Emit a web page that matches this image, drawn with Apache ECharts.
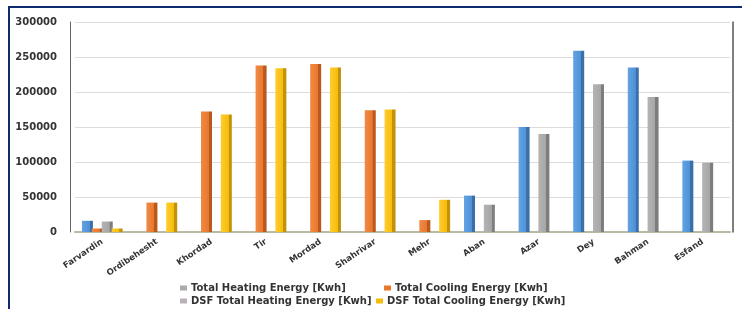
<!DOCTYPE html>
<html>
<head>
<meta charset="utf-8">
<script src="https://cdn.jsdelivr.net/npm/echarts@6/dist/echarts.min.js"></script>
<style>
  html, body { margin: 0; padding: 0; background: #fff; overflow: hidden; }
  #frame {
    position: absolute; left: 8px; top: 6px; width: 760px; height: 330px;
    border: 2px solid #0d2a6e; box-sizing: border-box;
  }
  #main { position: absolute; left: 0; top: 0; width: 742px; height: 309px; }
</style>
</head>
<body>
<div id="frame"></div>
<div id="main"></div>
<script>
// months of the Persian calendar
const months = ['Farvardin', 'Ordibehesht', 'Khordad', 'Tir', 'Mordad', 'Shahrivar',
  'Mehr', 'Aban', 'Azar', 'Dey', 'Bahman', 'Esfand']

const heating = [16000, 0, 0, 0, 0, 0, 0, 52000, 150000, 259000, 235000, 102000]
const cooling = [5000, 42000, 172000, 238000, 240000, 174000, 17000, 0, 0, 0, 0, 0]
const dsfHeating = [15000, 0, 0, 0, 0, 0, 0, 39000, 140000, 211000, 193000, 99000]
const dsfCooling = [5000, 42000, 168000, 234000, 235000, 175000, 46000, 0, 0, 0, 0, 0]

const yTicks = [0, 50000, 100000, 150000, 200000, 250000, 300000]

const names = [
  'Total Heating Energy [Kwh]',
  'Total Cooling Energy [Kwh]',
  'DSF Total Heating Energy [Kwh]',
  'DSF Total Cooling Energy [Kwh]'
]

// bar face: light front, darker side
function shade (light, mid, dark) {
  return {
    type: 'linear', x: 0, y: 0, x2: 1, y2: 0,
    colorStops: [
      { offset: 0, color: light },
      { offset: 0.7, color: mid },
      { offset: 0.72, color: dark },
      { offset: 1, color: dark }
    ]
  }
}
const colors = [
  shade('#62a3e3', '#4f91d6', '#3b6fa8'),
  shade('#f08a45', '#e8772e', '#b95a1c'),
  shade('#b4b4b4', '#a6a6a6', '#7d7d7d'),
  shade('#ffcc2e', '#f5bd0a', '#c2920a')
]
// the legend keys look washed out in the original
const legendColors = ['#a9abb0', '#e8772e', '#b8b2b8', '#f5bd0a']

const seriesData = [heating, cooling, dsfHeating, dsfCooling]

const labelFont = { fontFamily: 'DejaVu Sans', fontWeight: 'bold', color: '#333' }

function legendItem (i, left, top) {
  return {
    data: [{ name: names[i], itemStyle: { color: legendColors[i] } }],
    left: left,
    top: top,
    itemWidth: 7,
    itemHeight: 5,
    itemGap: 4,
    padding: 0,
    icon: 'rect',
    selectedMode: false,
    textStyle: Object.assign({ fontSize: 10, padding: [0, 0, 0, -1] }, labelFont)
  }
}

const chart = echarts.init(document.getElementById('main'))
chart.setOption({
  animation: false,
  grid: { left: 75, right: 12, top: 22, bottom: 77 },
  legend: [
    legendItem(0, 180, 283),
    legendItem(1, 384, 283),
    legendItem(2, 180, 296),
    legendItem(3, 376, 296)
  ],
  xAxis: {
    type: 'category',
    data: months,
    axisTick: { show: false },
    axisLine: { lineStyle: { color: '#b9b9a4', width: 2 } },
    axisLabel: Object.assign({ fontSize: 8.5, rotate: 34, interval: 0, margin: 9 }, labelFont)
  },
  yAxis: [
    {
      type: 'value',
      min: yTicks[0],
      max: yTicks[yTicks.length - 1],
      interval: 50000,
      offset: 5,
      axisLine: { show: true, lineStyle: { color: '#666', width: 1 } },
      axisTick: { show: false },
      axisLabel: Object.assign({ fontSize: 10, margin: 13, formatter: v => String(v) }, labelFont),
      splitLine: { lineStyle: { color: '#dcdcdc', width: 1 } }
    },
    {
      type: 'value',
      min: 0,
      max: 300000,
      interval: 50000,
      position: 'right',
      offset: 3,
      axisLine: { show: true, lineStyle: { color: '#555', width: 1.5 } },
      axisTick: { show: false },
      axisLabel: { show: false },
      splitLine: { show: false }
    }
  ],
  series: seriesData.map((d, i) => ({
    name: names[i],
    type: 'bar',
    data: d,
    barWidth: 11,
    barGap: '-10%',
    itemStyle: { color: colors[i] }
  }))
})
</script>
</body>
</html>
